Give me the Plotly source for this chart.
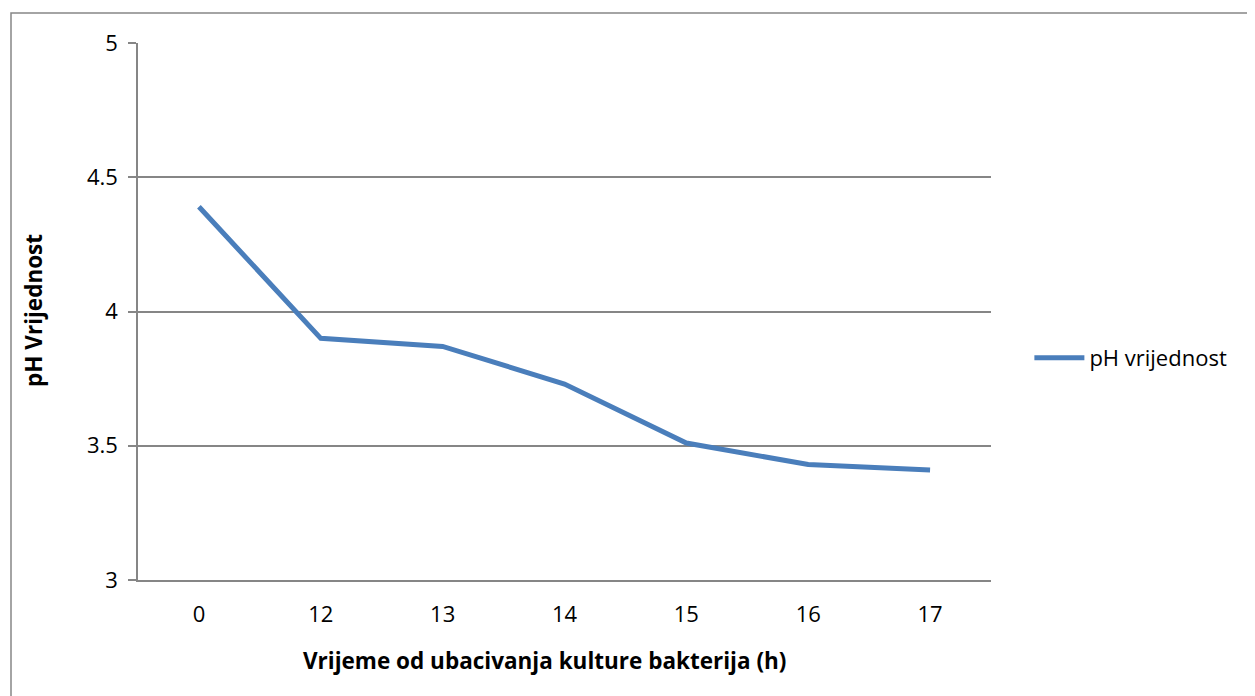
import plotly.graph_objects as go

categories = ["0", "12", "13", "14", "15", "16", "17"]
ph_values = [4.39, 3.90, 3.87, 3.73, 3.51, 3.43, 3.41]
y_ticks = [3, 3.5, 4, 4.5, 5]
y_tick_labels = ["3", "3.5", "4", "4.5", "5"]
series_name = "pH vrijednost"
x_title = "Vrijeme od ubacivanja kulture bakterija (h)"
y_title = "pH Vrijednost"

FONT = "Open Sans"
FS = 22
GRID = "#868686"

# plot area in page pixels: x 138..991, y 43..580 (page has 8px body margin)
fig = go.Figure()
fig.add_trace(go.Scatter(
    x=categories, y=ph_values, mode="lines", name=series_name,
    line=dict(color="#4a7ebb", width=5),
))

fig.update_layout(
    width=1255, height=696,
    margin=dict(l=130, r=272, t=35, b=124),
    paper_bgcolor="white", plot_bgcolor="white",
    font=dict(family=FONT, size=FS, color="black"),
    showlegend=True,
    legend=dict(x=1.045, y=(580 - 358) / 537, xanchor="left", yanchor="middle",
                font=dict(family=FONT, size=FS, color="black"),
                itemwidth=50, bgcolor="rgba(0,0,0,0)"),
    xaxis=dict(type="category", range=[-0.5, 6.5], showgrid=False,
               showline=True, linecolor=GRID, linewidth=1.5,
               ticks="", tickfont=dict(size=FS), ticklabelstandoff=14,
               zeroline=False),
    yaxis=dict(range=[3, 5], tickvals=y_ticks, ticktext=y_tick_labels,
               showgrid=True, gridcolor=GRID, gridwidth=1.5,
               showline=True, linecolor=GRID, linewidth=1.5,
               ticks="outside", ticklen=8, tickcolor=GRID, tickwidth=1.5,
               tickfont=dict(size=FS), ticklabelstandoff=6,
               zeroline=False, mirror=False),
    shapes=[dict(type="rect", xref="paper", yref="paper",
                 x0=(11 - 138) / 853, y0=-200 / 537, x1=1.5, y1=(580 - 13) / 537,
                 line=dict(color=GRID, width=1.5), fillcolor="rgba(0,0,0,0)",
                 layer="below")],
    annotations=[
        dict(text="<b>" + x_title + "</b>", xref="paper", yref="paper",
             x=(544 - 138) / 853, y=-(660 - 580) / 537, xanchor="center",
             yanchor="middle", showarrow=False, font=dict(family=FONT, size=22.5)),
        dict(text="<b>" + y_title + "</b>", xref="paper", yref="paper",
             x=-(138 - 33) / 853, y=(580 - 311) / 537, xanchor="center", yanchor="middle",
             textangle=-90, showarrow=False, font=dict(family=FONT, size=22.5)),
    ],
)

fig.write_html("out.html")
